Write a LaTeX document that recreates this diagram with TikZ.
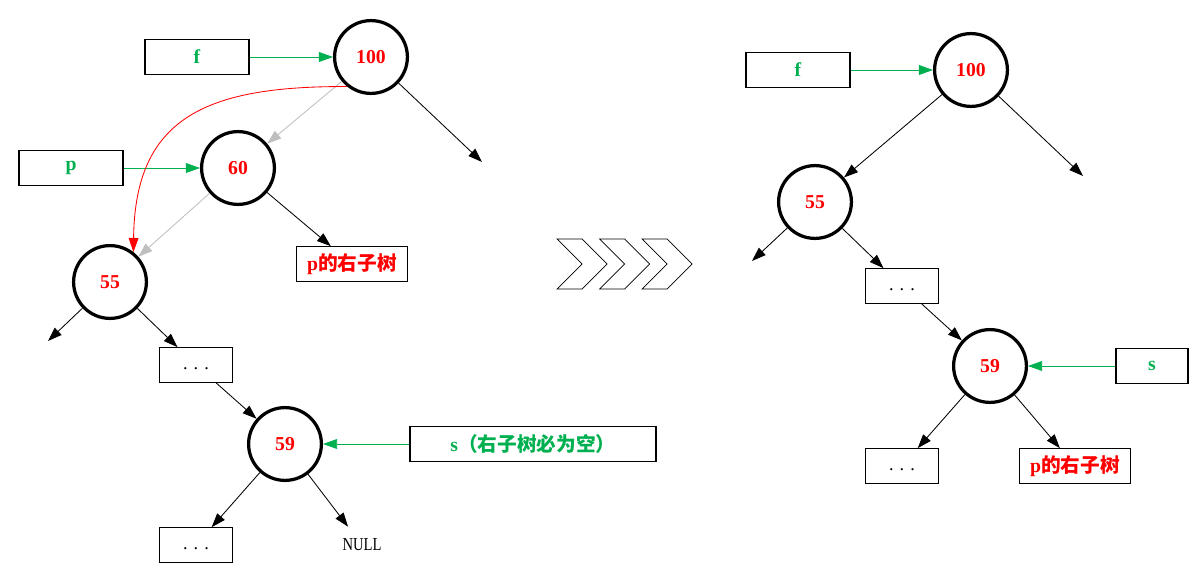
\documentclass[tikz,border=0pt]{standalone}
\usepackage{fontspec}
\setmainfont{Liberation Serif}
\newfontfamily\cjk{Noto Sans CJK SC}
\usetikzlibrary{arrows.meta}
\definecolor{ptrGreen}{HTML}{00B050}
\definecolor{keyRed}{HTML}{FF0000}
\definecolor{oldGray}{HTML}{BFBFBF}

\begin{document}
\begin{tikzpicture}[
    x=0.025cm, y=-0.025cm,
    vert/.style={circle, draw, line width=2.3pt, minimum size=1.82cm, inner sep=0pt, font=\fontsize{14}{16}\selectfont\bfseries, text=keyRed},
    ptr/.style={draw, line width=0.9pt, minimum width=2.6cm, minimum height=0.87cm, inner sep=0pt, font=\fontsize{14}{16}\selectfont\bfseries, text=ptrGreen},
    sub/.style={draw, line width=0.6pt, minimum width=1.82cm, minimum height=0.87cm, inner sep=2pt, text height=1.6ex, text depth=0.2ex, font=\fontsize{13}{15}\selectfont},
    tree/.style={sub, minimum width=2.78cm, text=keyRed, text height=, text depth=, font=\fontsize{14}{16}\selectfont\bfseries},
    arr/.style={-{Triangle[length=10pt,width=7pt]}, line width=0.6pt},
    garr/.style={arr, draw=ptrGreen},
  ]
    \useasboundingbox (0,0) rectangle (1195,572);

    % before: left tree
    \node[vert] (a100) at (371,57)  {100};
    \node[vert] (a60)  at (238,168) {60};
    \node[vert] (a55)  at (110,282) {55};
    \node[vert] (a59)  at (285,444) {59};
    \node[ptr] (af) at (197,57)  {f};
    \node[ptr] (ap) at (71,168)  {p};
    \node[ptr, minimum width=6.15cm] (as) at (533,444) {s{\cjk （右子树必为空）}};
    \node[tree] (aright) at (352,264) {p{\cjk 的右子树}};
    \node[sub] (adots1) at (196,365) {. . .};
    \node[sub] (adots2) at (196,545) {. . .};
    \node[minimum height=0.9cm, inner sep=0pt, font=\fontsize{13}{15}\selectfont] (anull) at (362,545) {\scalebox{0.8}[1]{NULL}};
    \coordinate (a100r) at (482,162);
    \coordinate (a55l)  at (48,341);

    \draw[garr] (af) -- (a100);
    \draw[garr] (ap) -- (a60);
    \draw[garr] (as) -- (a59);
    \draw[arr] (a100) -- (a100r);
    \draw[arr, draw=oldGray] (a100) -- (a60);
    \draw[arr, draw=oldGray] (a60) -- (a55);
    \draw[arr] (a60) -- (aright);
    \draw[arr, draw=keyRed] (a100.231) .. controls (205,86) and (135,118) .. (a55.52);
    \draw[arr] (a55) -- (a55l);
    \draw[arr] (a55) -- (adots1);
    \draw[arr] (adots1) -- (a59);
    \draw[arr] (a59) -- (adots2);
    \draw[arr] (a59) -- (anull);

    % the change
    \foreach \k in {0,1,2}
      \draw[line width=0.5pt, shift={(42.5*\k,0)}] (557,239) -- (582,239) -- (607,264) -- (582,289) -- (557,289) -- (582,264) -- cycle;

    % after: right tree
    \node[vert] (b100) at (971,70)  {100};
    \node[vert] (b55)  at (815,202) {55};
    \node[vert] (b59)  at (990,366) {59};
    \node[ptr] (bf) at (798,70) {f};
    \node[ptr, minimum width=1.8cm] (bs) at (1152,366) {s};
    \node[sub] (bdots1) at (902,286) {. . .};
    \node[sub] (bdots2) at (902,466) {. . .};
    \node[tree] (bright) at (1075,466) {p{\cjk 的右子树}};
    \coordinate (b100r) at (1083,176);
    \coordinate (b55l)  at (752,261);

    \draw[garr] (bf) -- (b100);
    \draw[garr] (bs) -- (b59);
    \draw[arr] (b100) -- (b55);
    \draw[arr] (b100) -- (b100r);
    \draw[arr] (b55) -- (b55l);
    \draw[arr] (b55) -- (bdots1);
    \draw[arr] (bdots1) -- (b59);
    \draw[arr] (b59) -- (bdots2);
    \draw[arr] (b59) -- (bright);
  \end{tikzpicture}
\end{document}
